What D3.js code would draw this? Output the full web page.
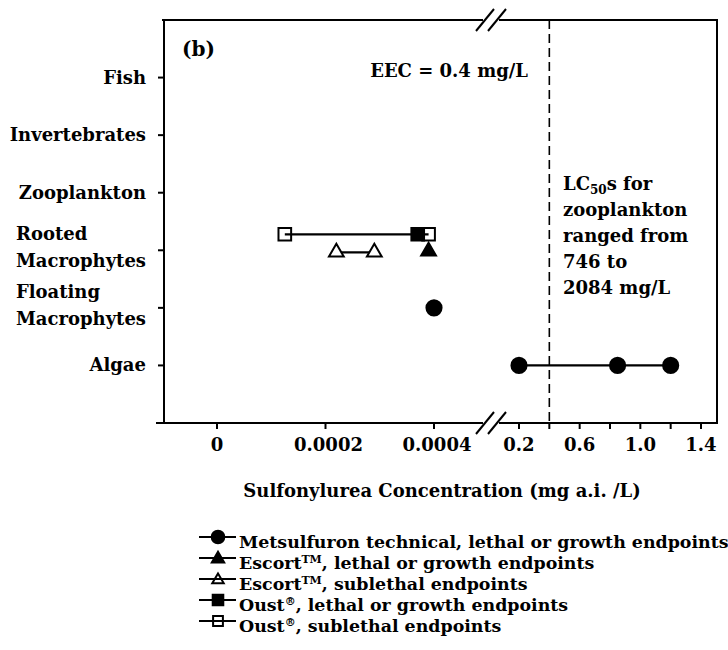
<!DOCTYPE html>
<html><head><meta charset="utf-8">
<script src="https://cdn.jsdelivr.net/npm/d3@7"></script>
<style>body{margin:0;background:#fff}</style>
</head><body><svg id="c" width="728" height="650"></svg>
<script>
// ---------- data ----------
const categories = ["Algae", "Floating Macrophytes", "Rooted Macrophytes", "Zooplankton", "Invertebrates", "Fish"];
const categoryLines = [["Algae"], ["Floating", "Macrophytes"], ["Rooted", "Macrophytes"], ["Zooplankton"], ["Invertebrates"], ["Fish"]];
const leftTicks = [0, 0.0002, 0.0004];
const leftTickLabels = ["0", "0.0002", "0.0004"];
const rightTicks = [0.2, 0.4, 0.6, 0.8, 1.0, 1.2, 1.4];
const rightTickLabels = ["0.2", "0.6", "1.0", "1.4"];
const rightLabelValues = [0.2, 0.6, 1.0, 1.4];
const eecValue = 0.4;

const metsulfuronFloating = [0.0004];
const metsulfuronAlgae = [0.2, 0.85, 1.2];
const escortLethalRooted = [0.00039];
const escortSublethalRooted = [0.00022, 0.00029];
const oustLethalRooted = [0.00037];
const oustSublethalRooted = [0.000125, 0.00039];

const legendLabels = [
  [["Metsulfuron technical, lethal or growth endpoints"]],
  [["Escort"], ["TM", "sup"], [", lethal or growth endpoints"]],
  [["Escort"], ["TM", "sup"], [", sublethal endpoints"]],
  [["Oust"], ["®", "sup"], [", lethal or growth endpoints"]],
  [["Oust"], ["®", "sup"], [", sublethal endpoints"]]
];

// series (draw order)
const series = [
  {key: "escortSub", symbol: d3.symbolTriangle, size: 95, filled: false, dy: 2, lineOnTop: false,
   groups: [{cat: "Rooted Macrophytes", values: escortSublethalRooted}]},
  {key: "oustSub", symbol: d3.symbolSquare, size: 160, filled: false, dy: -16, lineOnTop: true,
   groups: [{cat: "Rooted Macrophytes", values: oustSublethalRooted}]},
  {key: "oustLethal", symbol: d3.symbolSquare, size: 160, filled: true, dy: -16, lineOnTop: false,
   groups: [{cat: "Rooted Macrophytes", values: oustLethalRooted}]},
  {key: "escortLethal", symbol: d3.symbolTriangle, size: 95, filled: true, dy: 1, lineOnTop: false,
   groups: [{cat: "Rooted Macrophytes", values: escortLethalRooted}]},
  {key: "metsulfuron", symbol: d3.symbolCircle, size: 180, filled: true, dy: 0, lineOnTop: false,
   groups: [{cat: "Floating Macrophytes", values: metsulfuronFloating},
            {cat: "Algae", values: metsulfuronAlgae}]}
];
const legendSeries = ["metsulfuron", "escortLethal", "escortSub", "oustLethal", "oustSub"];

// ---------- layout ----------
const FONT = "'DejaVu Serif', serif";
const FS = 18;
const svg = d3.select("#c");
const L = 164, T = 20, R = 717, B = 423, BRK = 491;

const y = d3.scaleLinear().domain([0, 7]).range([B, T]);
const xLeft = d3.scaleLinear().domain([0, 0.0004]).range([217, 434]);
const xRight = d3.scaleLinear().domain([0.2, 1.4]).range([519, 701]);
const xPos = v => v < 0.01 ? xLeft(v) : xRight(v);
const yCat = c => y(categories.indexOf(c) + 1);

const g = svg.append("g");
const stroke = "#000";

// frame
g.append("line").attr("x1", L).attr("x2", L).attr("y1", T - 1).attr("y2", B + 1).attr("stroke", stroke).attr("stroke-width", 2);
g.append("line").attr("x1", R).attr("x2", R).attr("y1", T - 1).attr("y2", B + 1).attr("stroke", stroke).attr("stroke-width", 2);
[[T, L - 2], [B, 156]].forEach(([yy, x0]) => {
  g.append("line").attr("x1", x0).attr("x2", BRK - 7).attr("y1", yy).attr("y2", yy).attr("stroke", stroke).attr("stroke-width", 2);
  g.append("line").attr("x1", BRK + 7).attr("x2", R + 1).attr("y1", yy).attr("y2", yy).attr("stroke", stroke).attr("stroke-width", 2);
  g.append("rect").attr("x", BRK - 8).attr("y", yy - 3).attr("width", 16).attr("height", 6).attr("fill", "#fff");
  [-6, 6].forEach(o => {
    g.append("line").attr("x1", BRK + o - 9).attr("y1", yy + 11).attr("x2", BRK + o + 9).attr("y2", yy - 11)
      .attr("stroke", stroke).attr("stroke-width", 2);
  });
});

// y axis ticks + labels
categories.forEach((c, i) => {
  const yy = yCat(c);
  g.append("line").attr("x1", L - 6).attr("x2", L).attr("y1", yy).attr("y2", yy).attr("stroke", stroke).attr("stroke-width", 2);
  const lines = categoryLines[i];
  const offs = lines.length === 1 ? [6] : [-10, 17];
  const tg = g.append("g");
  const texts = lines.map((t, k) => tg.append("text").attr("y", yy + offs[k]).attr("font-family", FONT)
    .attr("font-weight", "bold").attr("font-size", FS).attr("fill", "#000").text(t));
  const w = d3.max(texts, t => t.node().getComputedTextLength());
  texts.forEach(t => t.attr("x", 146 - w));
});

// x axis ticks
leftTicks.forEach(v => {
  g.append("line").attr("x1", xLeft(v)).attr("x2", xLeft(v)).attr("y1", B).attr("y2", B + 6).attr("stroke", stroke).attr("stroke-width", 2);
});
leftTicks.forEach((v, i) => {
  g.append("text").attr("x", xLeft(v) + (i === 0 ? 0 : 3)).attr("y", B + 28).attr("text-anchor", "middle")
    .attr("font-family", FONT).attr("font-weight", "bold").attr("font-size", FS).text(leftTickLabels[i]);
});
rightTicks.forEach(v => {
  g.append("line").attr("x1", xRight(v)).attr("x2", xRight(v)).attr("y1", B).attr("y2", B + 6).attr("stroke", stroke).attr("stroke-width", 2);
});
rightLabelValues.forEach((v, i) => {
  g.append("text").attr("x", xRight(v)).attr("y", B + 28).attr("text-anchor", "middle")
    .attr("font-family", FONT).attr("font-weight", "bold").attr("font-size", FS).text(rightTickLabels[i]);
});

// axis title
g.append("text").attr("x", 442).attr("y", 497).attr("text-anchor", "middle")
  .attr("font-family", FONT).attr("font-weight", "bold").attr("font-size", FS)
  .text("Sulfonylurea Concentration (mg a.i. /L)");

// EEC dashed line
g.append("line").attr("x1", xRight(eecValue)).attr("x2", xRight(eecValue)).attr("y1", T).attr("y2", B)
  .attr("stroke", stroke).attr("stroke-width", 1.6).attr("stroke-dasharray", "9,5");

// annotations
g.append("text").attr("x", 182).attr("y", 56).attr("font-family", FONT).attr("font-weight", "bold").attr("font-size", 20).text("(b)");
g.append("text").attr("x", 528).attr("y", 77).attr("text-anchor", "end").attr("font-family", FONT).attr("font-weight", "bold").attr("font-size", FS).text("EEC = 0.4 mg/L");
const lc = g.append("text").attr("font-family", FONT).attr("font-weight", "bold").attr("font-size", FS);
const lcX = 563, lcY0 = 190, lcDY = 26;
const l1 = lc.append("tspan").attr("x", lcX).attr("y", lcY0);
l1.append("tspan").text("LC");
l1.append("tspan").attr("font-size", 12).attr("dy", 4).text("50");
l1.append("tspan").attr("dy", -4).text("s for");
["zooplankton", "ranged from", "746 to", "2084 mg/L"].forEach((t, k) => {
  lc.append("tspan").attr("x", lcX).attr("y", lcY0 + lcDY * (k + 1)).text(t);
});

// data marks
function drawMarker(sel, s, x0, y0, scale) {
  sel.append("path").attr("d", d3.symbol().type(s.symbol).size(s.size * (scale || 1))())
    .attr("transform", `translate(${x0},${y0})`)
    .attr("fill", s.filled ? "#000" : "#fff").attr("stroke", "#000").attr("stroke-width", 2);
}
const lineLayer = g.append("g"), markLayer = g.append("g"), topLayer = g.append("g");
series.forEach(s => {
  s.groups.forEach(gr => {
    const yy = yCat(gr.cat) + s.dy;
    if (gr.values.length > 1) {
      const layer = s.lineOnTop ? topLayer : lineLayer;
      layer.append("line").attr("x1", xPos(d3.min(gr.values))).attr("x2", xPos(d3.max(gr.values)))
        .attr("y1", yy).attr("y2", yy).attr("stroke", "#000").attr("stroke-width", 2.2);
    }
    gr.values.forEach(v => drawMarker(markLayer, s, xPos(v), yy));
  });
});

// legend
legendSeries.forEach((k, i) => {
  const s = series.find(d => d.key === k);
  const cy = 537 + i * 21;
  const lg = g.append("g");
  const ln = () => lg.append("line").attr("x1", 199).attr("x2", 236).attr("y1", cy).attr("y2", cy).attr("stroke", "#000").attr("stroke-width", 2);
  if (s.filled) { ln(); drawMarker(lg, s, 218, cy + (s.symbol === d3.symbolTriangle ? 1 : 0), 0.7); }
  else { drawMarker(lg, s, 218, cy + (s.symbol === d3.symbolTriangle ? 1 : 0), 0.6); ln(); }
  const t = lg.append("text").attr("x", 239).attr("y", cy + 5).attr("font-family", FONT).attr("font-weight", "bold").attr("font-size", 17.4);
  legendLabels[i].forEach(p => {
    if (p[1] === "sup") t.append("tspan").attr("font-size", 11).attr("dy", -6).text(p[0]);
    else t.append("tspan").attr("dy", t.selectAll("tspan").size() ? 6 : 0).text(p[0]);
  });
});
</script></body></html>
